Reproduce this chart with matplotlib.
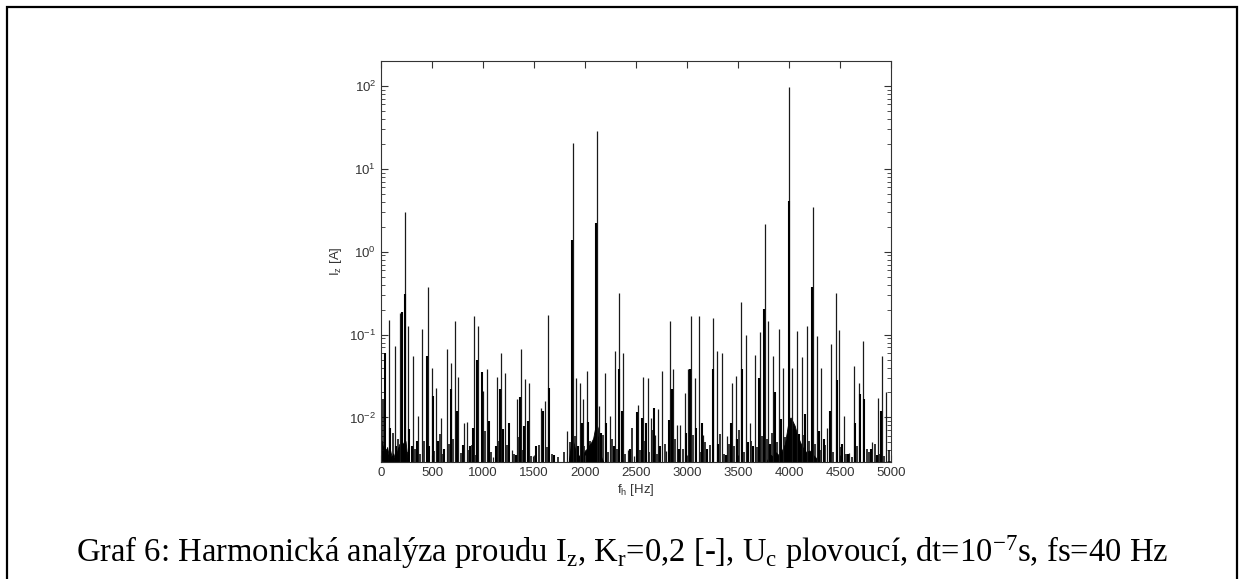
import matplotlib
matplotlib.use("Agg")
import matplotlib.pyplot as plt
from matplotlib.patches import Rectangle
from matplotlib.ticker import LogLocator, NullFormatter

# ******************** DATA ********************
# tall thin harmonic lines: frequency [Hz], amplitude [A]
main_f = [78, 137, 186, 240, 268, 310, 366, 405, 458, 497, 539, 588, 644, 683,
          725, 758, 814, 840, 915, 954, 997, 1036, 1101, 1134, 1173, 1216, 1281,
          1330, 1373, 1412, 1451, 1493, 1569, 1608, 1641, 1820, 1880, 1912, 1951,
          1984, 2016, 2120, 2141, 2196, 2245, 2294, 2337, 2376, 2418, 2480, 2523,
          2572, 2614, 2647, 2686, 2719, 2758, 2791, 2833, 2866, 2899, 2931, 2980,
          3013, 3039, 3078, 3118, 3160, 3258, 3291, 3340, 3395, 3444, 3480, 3527,
          3575, 3618, 3667, 3716, 3760, 3797, 3846, 3902, 3938, 4000, 4031, 4080,
          4129, 4178, 4240, 4271, 4314, 4373, 4412, 4461, 4493, 4542, 4591, 4640,
          4690, 4729, 4810, 4869, 4915, 4955]
main_a = [0.148, 0.072, 0.18, 3.05, 0.128, 0.055, 0.0104, 0.117, 0.37, 0.040,
          0.0228, 0.0099, 0.067, 0.046, 0.145, 0.031, 0.0086, 0.0088, 0.166, 0.128,
          0.0208, 0.038, 0.0033, 0.031, 0.060, 0.0345, 0.0041, 0.0165, 0.067, 0.0287,
          0.0262, 0.0034, 0.013, 0.0157, 0.17, 0.0068, 20.7, 0.030, 0.0262, 0.0165,
          0.036, 28.9, 0.0137, 0.0345, 0.0104, 0.063, 0.32, 0.060, 0.0041, 0.0034,
          0.0143, 0.031, 0.030, 0.0099, 0.0062, 0.0125, 0.036, 0.0039, 0.145, 0.038,
          0.0082, 0.0082, 0.0198, 0.038, 0.166, 0.030, 0.166, 0.0062, 0.16, 0.063,
          0.060, 0.006, 0.026, 0.032, 0.25, 0.10, 0.0086, 0.056, 0.106, 2.17,
          0.145, 0.055, 0.117, 0.040, 96.0, 0.040, 0.11, 0.054, 0.128, 3.45,
          0.097, 0.040, 0.0075, 0.077, 0.32, 0.115, 0.0104, 0.0037, 0.042, 0.026,
          0.083, 0.005, 0.017, 0.055, 0.02]

# shorter companion lines (drawn black and a bit thicker)
comp_f = [40, 92, 150, 205, 232, 275, 300, 350, 448, 470, 505, 560, 620, 690,
          745, 800, 870, 905, 945, 990, 1060, 1125, 1165, 1200, 1250, 1320, 1365,
          1400, 1440, 1520, 1590, 1650, 1700, 1872, 1930, 1970, 2030, 2112, 2160,
          2210, 2280, 2330, 2360, 2440, 2510, 2560, 2600, 2680, 2740, 2820, 2855,
          2920, 2990, 3030, 3090, 3150, 3200, 3255, 3300, 3380, 3430, 3490, 3540,
          3600, 3650, 3710, 3756, 3810, 3860, 3920, 3996, 4050, 4100, 4160, 4228,
          4290, 4340, 4400, 4470, 4520, 4580, 4650, 4700, 4735, 4800, 4860, 4905]
comp_a = [0.06, 0.0075, 0.0045, 0.185, 0.31, 0.0072, 0.0045, 0.0052, 0.055, 0.0045,
          0.018, 0.0052, 0.0042, 0.022, 0.012, 0.0047, 0.0045, 0.0075, 0.05, 0.035,
          0.009, 0.0045, 0.022, 0.0072, 0.0085, 0.0035, 0.0175, 0.0078, 0.009, 0.0045,
          0.012, 0.0228, 0.0035, 1.37, 0.0045, 0.0085, 0.0088, 2.22, 0.0065, 0.0085,
          0.0045, 0.038, 0.012, 0.0042, 0.0115, 0.0098, 0.0085, 0.013, 0.0045, 0.0092,
          0.022, 0.0042, 0.0065, 0.038, 0.0075, 0.0086, 0.0042, 0.038, 0.0048, 0.0035,
          0.0085, 0.0055, 0.038, 0.005, 0.0045, 0.03, 0.206, 0.0048, 0.02, 0.0095,
          4.04, 0.0072, 0.0063, 0.011, 0.38, 0.0068, 0.0055, 0.012, 0.028, 0.0048,
          0.0036, 0.0085, 0.019, 0.0165, 0.0042, 0.0035, 0.012]

# small stems along the bottom of the spectrum
low_f = [20, 60, 115, 170, 215, 255, 330, 385, 425, 520, 575, 605, 665, 705, 780,
         855, 890, 935, 1015, 1080, 1150, 1190, 1235, 1300, 1345, 1390, 1470, 1545,
         1625, 1680, 1735, 1790, 1850, 1900, 1995, 2050, 2090, 2180, 2230, 2265,
         2310, 2395, 2460, 2540, 2590, 2630, 2665, 2705, 2780, 2880, 2960, 3060,
         3130, 3180, 3230, 3320, 3360, 3410, 3465, 3510, 3560, 3630, 3690, 3740,
         3780, 3830, 3880, 3960, 4020, 4060, 4150, 4200, 4255, 4300, 4355, 4430,
         4510, 4560, 4620, 4670, 4760, 4780, 4840, 4890, 4935, 4980]
low_a = [0.0165, 0.0042, 0.0065, 0.0055, 0.0048, 0.0038, 0.0042, 0.0036, 0.0052,
         0.0039, 0.0064, 0.0036, 0.0048, 0.0055, 0.0037, 0.0040, 0.0046, 0.0035,
         0.0068, 0.0038, 0.0052, 0.0040, 0.0046, 0.0036, 0.0058, 0.0040, 0.0034,
         0.0046, 0.0044, 0.0036, 0.0033, 0.0038, 0.0050, 0.0060, 0.0045, 0.0052,
         0.0048, 0.0062, 0.0038, 0.0055, 0.0042, 0.0036, 0.0075, 0.0040, 0.0052,
         0.0038, 0.0070, 0.0036, 0.0048, 0.0055, 0.0042, 0.0062, 0.0038, 0.0050,
         0.0046, 0.0064, 0.0036, 0.0048, 0.0045, 0.0070, 0.0038, 0.0052, 0.0044,
         0.0060, 0.0055, 0.0065, 0.0050, 0.0058, 0.0070, 0.0068, 0.0062, 0.0052,
         0.0048, 0.0040, 0.0046, 0.0038, 0.0044, 0.0036, 0.0033, 0.0045, 0.0042,
         0.0038, 0.0048, 0.0036, 0.0034, 0.0040]

# dense low level noise floor around DC, 2 kHz and 4 kHz
floor1_f = [0, 10, 20, 30, 45, 60, 75, 90, 105, 120, 135, 150, 165, 180, 195,
            210, 225, 240, 255, 270]
floor1_a = [0.0048, 0.0052, 0.0042, 0.0047, 0.0038, 0.0044, 0.0035, 0.0040, 0.0033,
            0.0037, 0.0032, 0.0036, 0.0042, 0.0048, 0.0045, 0.0050, 0.0046, 0.0052,
            0.0035, 0.0029]
floor2_f = [1840, 1860, 1875, 1890, 1905, 1920, 1940, 1960, 1980, 2000, 2020, 2040,
            2060, 2080, 2095, 2110, 2125, 2140, 2160, 2180]
floor2_a = [0.0029, 0.0045, 0.0055, 0.0048, 0.0040, 0.0036, 0.0034, 0.0038, 0.0035,
            0.0040, 0.0042, 0.0046, 0.0050, 0.0056, 0.0070, 0.0085, 0.0075, 0.0045,
            0.0033, 0.0029]
floor3_f = [3780, 3810, 3840, 3870, 3900, 3930, 3960, 3985, 4000, 4015, 4035, 4055,
            4080, 4110, 4140, 4170, 4200, 4230, 4260, 4300]
floor3_a = [0.0029, 0.0036, 0.0034, 0.0038, 0.0035, 0.0040, 0.0048, 0.0075, 0.0095,
            0.0100, 0.0090, 0.0080, 0.0062, 0.0050, 0.0042, 0.0038, 0.0040, 0.0036,
            0.0033, 0.0029]

x_ticks = [0, 500, 1000, 1500, 2000, 2500, 3000, 3500, 4000, 4500, 5000]
y_bottom, y_top = 0.0029, 200

caption = ("Graf 6: Harmonická analýza proudu I$\\mathregular{_z}$, "
           "K$\\mathregular{_r}$=0,2 [-], U$\\mathregular{_c}$ plovoucí, "
           "dt=10$\\mathregular{^{-7}}$s, fs=40 Hz")

# ******************** FIGURE ********************
W, H = 1243, 579
fig = plt.figure(figsize=(W / 100, H / 100), dpi=100)
fig.patch.set_facecolor("white")

# outer frame of the document box
fig.patches.append(Rectangle((7 / W, -0.05), 1230 / W, 1.05 - 7 / H,
                             transform=fig.transFigure, fill=False,
                             edgecolor="black", linewidth=1.6))

ax = fig.add_axes([381 / W, (H - 462) / H, 510 / W, 401 / H])
ax.set_yscale("log")

# ******************** SPECTRUM ********************
for ff, fa in [(floor1_f, floor1_a), (floor2_f, floor2_a), (floor3_f, floor3_a)]:
    ax.fill_between(ff, y_bottom, fa, color="black", linewidth=0.6)

ax.vlines(low_f, y_bottom, low_a, color="black", linewidth=1.1)
ax.vlines(main_f, y_bottom, main_a, color="#1a1a1a", linewidth=0.9)
ax.vlines(comp_f, y_bottom, comp_a, color="black", linewidth=1.5)

# ******************** AXES ********************
ax.set_xlim(0, 5000)
ax.set_ylim(y_bottom, y_top)
ax.set_xticks(x_ticks)
ax.yaxis.set_major_locator(LogLocator(base=10, numticks=10))
ax.yaxis.set_minor_locator(LogLocator(base=10, subs=range(2, 10), numticks=20))
ax.yaxis.set_minor_formatter(NullFormatter())

tick_font = "Liberation Sans"
ax.tick_params(which="both", direction="in", top=True, right=True,
               color="#333333", labelcolor="#333333", labelsize=9.5)
ax.tick_params(which="major", length=5, width=0.8)
ax.tick_params(which="minor", length=3, width=0.6)
for lab in ax.get_xticklabels() + ax.get_yticklabels():
    lab.set_fontfamily(tick_font)
for sp in ax.spines.values():
    sp.set_color("#333333")
    sp.set_linewidth(0.8)

ax.set_xlabel("f$\\mathregular{_h}$ [Hz]", fontsize=9.5, family=tick_font,
              color="#333333", labelpad=2)
ax.set_ylabel("I$\\mathregular{_z}$ [A]", fontsize=9.5, family=tick_font,
              color="#333333", labelpad=4)

fig.text(622 / W, (H - 562) / H, caption, family="Liberation Serif",
         fontsize=23.5, ha="center", va="baseline", color="black")

fig.savefig("out.png", dpi=100, facecolor="white")
